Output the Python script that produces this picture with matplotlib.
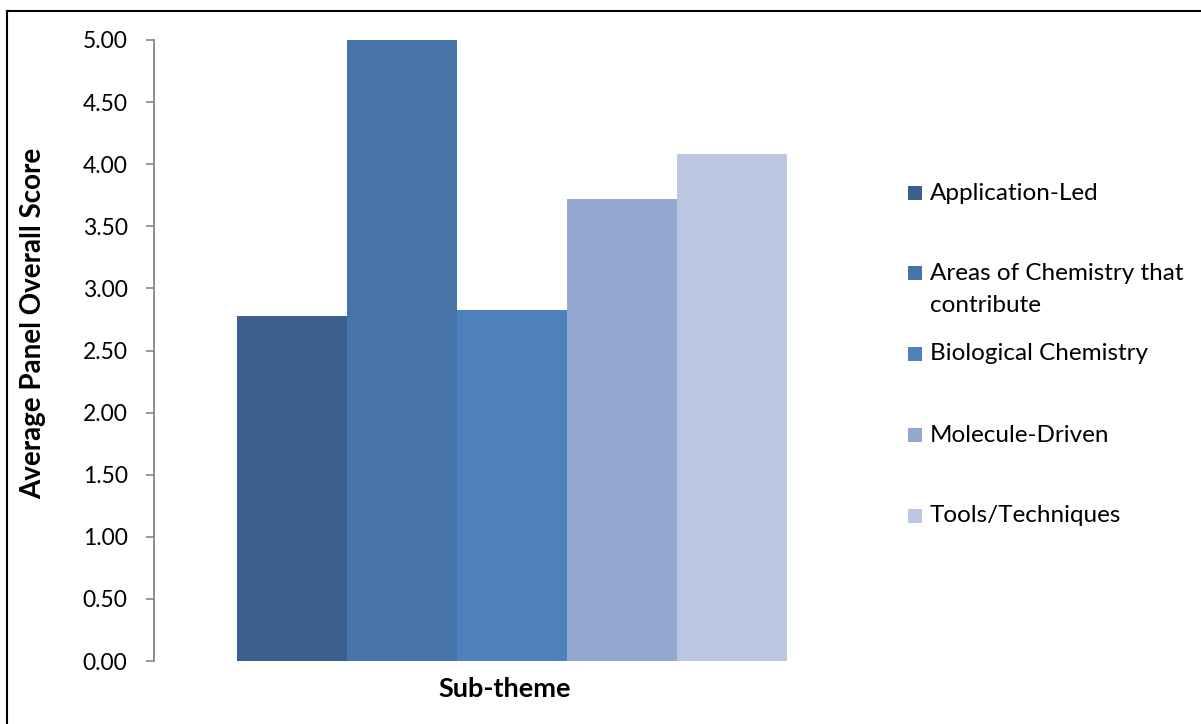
import matplotlib.pyplot as plt
from matplotlib.patches import Rectangle

# data
categories = ['Application-Led', 'Areas of Chemistry that\ncontribute', 'Biological Chemistry',
              'Molecule-Driven', 'Tools/Techniques']
scores = [2.78, 5.00, 2.83, 3.72, 4.08]
colors = ['#3C5F8D', '#4673A8', '#4F81BD', '#95A9D0', '#BBC7E0']
yticks = [0.0, 0.5, 1.0, 1.5, 2.0, 2.5, 3.0, 3.5, 4.0, 4.5, 5.0]

plt.rcParams['font.family'] = ['Lato', 'DejaVu Sans']

W, H = 1201, 724
fig = plt.figure(figsize=(W / 100, H / 100), dpi=100)
pw, ph = 869 - 154, 661 - 40
ax = fig.add_axes([154 / W, (H - 661) / H, pw / W, ph / H])

n = len(scores)
bw = 1.0
xs = [i * bw for i in range(n)]
ax.bar(xs, scores, width=bw, color=colors, align='edge', linewidth=0)
gap = 0.75 * bw
ax.set_xlim(-gap, n * bw + gap)
ax.set_ylim(0, 5)

ax.set_yticks(yticks)
ax.set_yticklabels(['%.2f' % v for v in yticks], fontsize=16.5)
ax.tick_params(axis='y', length=6, width=1.2, color='#868686', pad=13)
ax.set_xticks([])
for s in ['top', 'right', 'bottom']:
    ax.spines[s].set_visible(False)
ax.spines['left'].set_color('#868686')
ax.spines['left'].set_linewidth(1.3)

ax.set_ylabel('Average Panel Overall Score', fontsize=20, fontweight='bold')
ax.yaxis.set_label_coords(-(154 - 46) / pw, (661 - 323) / ph)
ax.set_xlabel('Sub-theme', fontsize=19.5, fontweight='bold')
ax.xaxis.set_label_coords((505 - 154) / pw, -(677 - 661) / ph)

# legend, drawn by hand to match the uneven spacing
leg_y = [193, 273, 354, 435, 516]
for lab, c, y in zip(categories, colors, leg_y):
    fig.add_artist(Rectangle((908 / W, (H - y - 7) / H), 14 / W, 14 / H,
                             transform=fig.transFigure, color=c, linewidth=0))
    for i, line in enumerate(lab.split('\n')):
        fig.text(930 / W, (H - y - 33 * i) / H, line, fontsize=17.5, va='center')

# outer frame (only left and top edges show)
fig.add_artist(plt.Line2D([7 / W, 7 / W], [0, (H - 11) / H], color='black', lw=1.5,
                          transform=fig.transFigure))
fig.add_artist(plt.Line2D([7 / W, 1], [(H - 11) / H, (H - 11) / H], color='black', lw=1.5,
                          transform=fig.transFigure))

plt.savefig('out.png', dpi=100)
plt.close()
